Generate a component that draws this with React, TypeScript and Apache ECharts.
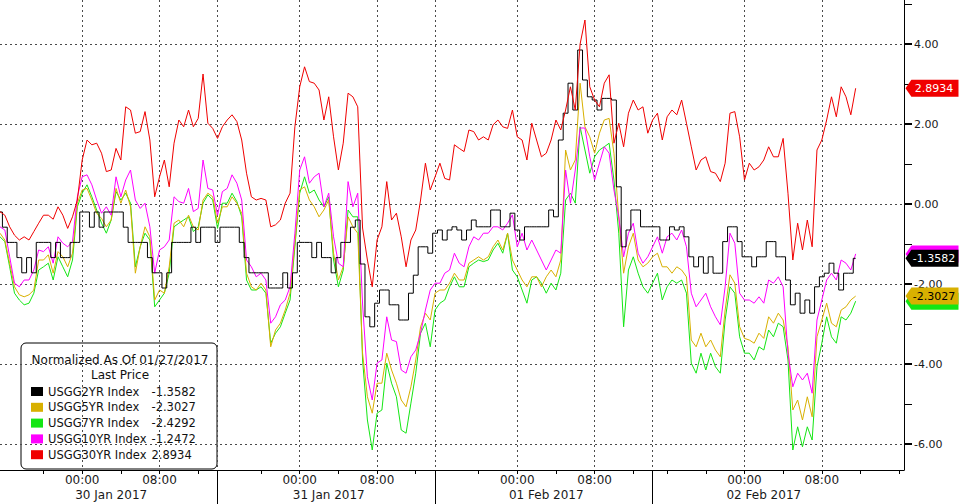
import React, { useEffect, useRef } from 'react';
import * as echarts from 'echarts';

// ---------- axis definition (trading-time slots of 30 minutes) ----------
const DAY_LABELS = ['30 Jan 2017', '31 Jan 2017', '01 Feb 2017', '02 Feb 2017'];
const DAY_START_SLOTS = [0, 45, 90, 135];
const DAY_START_TIMES = ['15:30', '15:30', '15:30', '14:30'];
const SLOT_COUNT = 188;
const SLOT_MINUTES = 30;
const DAY_LABEL_OFFSET = 23;
const TIME_LABELS = ['00:00', '08:00'];
const Y_MIN = -6.65;
const Y_MAX = 5.1;
const Y_LABEL_VALUES = [-6, -4, -2, 0, 2, 4];
const Y_MINOR_VALUES = [-5, -3, -1, 1, 3, 5];
const LEGEND_TITLE = 'Normalized As Of 01/27/2017';
const LEGEND_SUBTITLE = 'Last Price';

// ---------- series values (one value per slot) ----------
const USGG2YR = [
  -0.2, -0.58, -0.96, -0.96, -1.34, -1.72, -1.34, -1.72, -0.96, -0.96,
  -0.96, -1.34, -0.96, -1.34, -1.34, -0.96, -0.96, -0.2, -0.2, -0.58,
  -0.2, -0.58, -0.2, -0.2, -0.2, -0.2, -0.58, -0.96, -0.96, -0.96,
  -0.96, -1.34, -1.72, -1.72, -2.1, -1.72, -0.96, -0.96, -0.96, -0.96,
  -0.58, -0.96, -0.58, -0.58, -0.58, -0.96, -0.58, -0.58, -0.58, -0.58,
  -0.96, -1.34, -1.72, -1.72, -1.72, -1.72, -2.1, -2.1, -2.1, -1.72,
  -2.1, -1.72, -0.96, -0.96, -0.96, -1.34, -0.96, -1.34, -1.34, -1.72,
  -1.34, -0.96, -0.96, -0.58, -0.4, -1.5, -2.82, -3.07, -2.48, -2.15,
  -2.15, -2.52, -2.52, -2.9, -2.9, -2.23, -1.78, -1.07, -1.07, -1.23,
  -0.73, -0.65, -0.9, -0.65, -0.57, -0.65, -0.9, -0.65, -0.4, -0.57,
  -0.57, -0.57, -0.15, -0.15, -0.57, -0.57, -0.23, -0.65, -0.9, -0.57,
  -0.57, -0.57, -0.57, -0.57, -0.15, -0.32, 1.6, 2.27, 3.02, 2.35,
  3.85, 3.1, 2.68, 2.6, 2.35, 2.64, 2.64, 2.6, 0.43, -1.07,
  -0.65, -0.15, -0.15, -0.57, -0.57, -0.57, -0.57, -0.9, -0.9, -0.57,
  -0.65, -0.57, -0.82, -1.32, -1.57, -1.32, -1.73, -1.32, -1.73, -1.73,
  -0.94, -0.57, -0.57, -0.94, -1.32, -1.32, -1.57, -1.32, -1.32, -0.94,
  -0.94, -1.32, -1.32, -1.9, -2.52, -2.23, -2.73, -2.4, -2.73, -2.07,
  -1.82, -1.73, -1.48, -1.73, -2.15, -1.73, -1.73, -1.3582,
];

const USGG5YR = [
  -0.73, -0.9, -1.48, -2.07, -2.27, -2.32, -2.27, -2.15, -1.4, -1.4,
  -1.27, -1.73, -1.19, -1.32, -1.57, -1.23, 0.02, 0.35, 0.39, 0.1,
  -0.23, -0.36, -0.57, -0.4, 0.39, 0.02, 0.35, -0.07, -1.73, -1.07,
  -0.57, -0.82, -2.4, -2.15, -2.23, -1.57, -0.48, -0.4, -0.57, -0.28,
  -0.57, -0.65, 0.1, 0.27, 0.18, -0.48, -0.07, -0.07, 0.18, 0.02,
  -0.23, -1.73, -2.07, -2.15, -1.98, -2.15, -3.57, -3.15, -2.98, -2.65,
  -2.23, -0.98, 0.35, 0.43, 0.1, -0.07, -0.32, -0.15, 0.1, -1.23,
  -1.9, -1.57, -0.32, -0.57, -0.73, -3.73, -4.82, -5.23, -4.48, -4.48,
  -3.73, -4.15, -4.48, -4.9, -5.07, -4.57, -3.9, -3.07, -2.73, -2.9,
  -2.23, -2.15, -2.15, -1.98, -1.73, -1.9, -1.9, -1.48, -1.4, -1.32,
  -1.4, -1.32, -1.07, -0.9, -1.15, -0.73, -1.4, -1.65, -1.9, -2.07,
  -1.82, -1.82, -2.07, -1.82, -1.65, -1.82, -1.4, 1.35, 0.85, 1.1,
  3.02, 1.93, 1.68, 1.27, 1.77, 2.1, 2.14, 1.27, -0.32, -1.73,
  -1.07, -0.73, -1.4, -1.57, -1.48, -1.32, -1.23, -1.57, -1.57, -1.73,
  -1.57, -1.65, -1.82, -3.4, -3.57, -3.23, -3.57, -3.4, -3.65, -3.82,
  -2.65, -1.77, -1.98, -3.07, -3.36, -3.4, -3.48, -3.23, -3.36, -2.82,
  -2.98, -2.73, -2.9, -3.57, -5.15, -4.9, -5.4, -4.82, -5.32, -3.32,
  -2.9, -2.48, -2.98, -3.07, -2.65, -2.57, -2.4, -2.3027,
];

const USGG7YR = [
  -0.82, -0.94, -1.57, -2.23, -2.4, -2.52, -2.48, -2.23, -1.65, -1.57,
  -1.48, -1.9, -1.32, -1.57, -1.82, -1.4, -0.07, 0.27, 0.48, 0.18,
  -0.15, -0.48, -0.73, -0.4, 0.31, 0.1, 0.27, 0.02, -1.57, -1.07,
  -0.73, -0.9, -2.57, -2.4, -2.23, -1.73, -0.57, -0.48, -0.4, -0.32,
  -0.69, -0.57, 0.02, 0.23, 0.1, -0.61, 0.02, 0.02, 0.27, 0.06,
  -0.32, -1.9, -2.15, -2.15, -2.07, -2.23, -3.48, -3.23, -3.07, -2.73,
  -2.4, -1.07, 0.27, 0.68, 0.27, 0.35, 0.1, -0.07, 0.18, -1.4,
  -2.07, -1.65, -0.15, -0.32, -0.32, -3.9, -5.4, -6.15, -5.23, -5.15,
  -3.98, -4.48, -4.82, -5.65, -5.73, -4.98, -4.23, -3.23, -2.98, -3.57,
  -2.65, -2.48, -2.4, -2.07, -1.82, -2.07, -2.07, -1.57, -1.48, -1.4,
  -1.44, -1.4, -1.15, -0.98, -1.23, -0.73, -1.65, -1.82, -2.15, -2.48,
  -1.9, -1.82, -1.98, -2.23, -1.98, -2.15, -1.73, 0.1, 0.27, 0.02,
  1.93, 1.35, 0.77, 1.18, 1.35, 1.43, 1.52, 0.6, -0.73, -3.07,
  -1.65, -1.32, -1.73, -2.07, -2.23, -1.98, -1.73, -2.4, -2.07, -1.9,
  -1.98, -1.9, -2.23, -3.98, -4.23, -3.73, -4.15, -3.73, -4.07, -4.23,
  -2.9, -2.07, -2.23, -3.32, -3.73, -3.73, -3.9, -3.57, -3.65, -3.15,
  -3.32, -2.98, -3.07, -3.9, -6.15, -5.57, -6.07, -5.57, -5.9, -4.07,
  -3.48, -2.82, -3.32, -3.48, -2.82, -2.9, -2.73, -2.4292,
];

const USGG10YR = [
  -0.57, -0.65, -1.32, -1.98, -2.07, -1.9, -1.9, -1.65, -1.15, -1.19,
  -1.07, -1.48, -0.82, -0.98, -1.07, -0.94, 0.18, 0.68, 0.73, 0.48,
  0.1, -0.23, -0.07, -0.28, 0.68, 0.18, 0.6, 0.85, 0.1, -0.11,
  0.02, -0.57, -1.73, -1.15, -1.07, -0.9, 0.18, 0.06, 0.02, 0.39,
  -0.19, -0.11, 1.1, 0.39, 0.35, -0.28, 0.31, 0.39, 0.73, 0.52,
  0.1, -1.4, -1.57, -1.82, -1.73, -1.9, -2.98, -2.82, -2.52, -2.4,
  -2.07, -0.73, 0.85, 1.18, 0.52, 0.68, 0.77, -0.07, 0.27, -0.82,
  -1.48, -1.57, 0.56, -0.07, 0.27, -2.5, -4.32, -4.9, -3.98, -3.9,
  -2.82, -3.4, -3.44, -4.15, -4.23, -3.82, -3.65, -3.23, -2.65, -2.15,
  -1.98, -1.98, -1.73, -1.65, -1.23, -1.48, -1.57, -1.07, -0.82, -0.9,
  -0.73, -0.73, -0.57, -0.57, -0.65, -0.48, -0.27, -1.07, -0.73, -1.15,
  -0.9, -1.15, -1.4, -1.65, -1.4, -1.15, -1.23, 0.85, 0.02, 0.85,
  1.9, 1.9, 1.18, 0.6, 1.02, 1.43, 1.27, 0.35, -0.32, -1.32,
  -0.73, -0.48, -1.23, -1.48, -1.32, -1.07, -0.82, -1.23, -0.82, -0.73,
  -0.9, -0.65, -1.07, -2.23, -2.57, -2.4, -2.23, -2.57, -2.82, -3.02,
  -2.07, -0.73, -0.98, -2.23, -2.4, -2.4, -2.48, -2.32, -2.48, -1.9,
  -1.98, -1.82, -2.07, -3.73, -4.57, -4.23, -4.4, -4.23, -4.73, -2.9,
  -2.4, -1.9, -1.73, -1.9, -1.4, -1.48, -1.65, -1.2472,
];

const USGG30YR = [
  -0.19, -0.28, -0.57, -0.78, -0.9, -0.82, -0.9, -0.69, -0.48, -0.28,
  -0.28, -0.38, -0.07, -0.28, -0.61, -0.32, 0.1, 1.1, 1.6, 1.48,
  1.52, 1.27, 0.81, 0.85, 1.39, 1.1, 2.43, 2.35, 1.77, 1.81,
  2.31, 1.6, 0.18, 0.68, 1.1, 0.43, 1.52, 2.1, 1.93, 2.35,
  1.93, 2.14, 3.25, 2.02, 1.89, 1.64, 1.93, 2.1, 2.23, 2.06,
  1.6, 0.77, 0.18, 0.1, 0.14, 0.1, -0.57, -0.52, -0.4, 0.02,
  0.27, 1.93, 2.93, 3.43, 3.06, 3.02, 2.85, 2.1, 2.68, 1.68,
  0.85, 1.52, 2.77, 2.68, 2.43, -0.6, -1.4, -2.07, -0.9, -0.57,
  0.56, -0.4, -0.23, -0.82, -1.57, -0.9, -0.65, 0.1, 1.02, 0.35,
  0.68, 1.02, 0.64, 0.6, 1.48, 1.39, 1.31, 1.85, 1.81, 1.6,
  1.68, 1.6, 1.98, 2.1, 1.93, 1.89, 2.35, 1.68, 1.6, 1.1,
  2.02, 1.6, 1.18, 1.27, 1.6, 2.1, 1.85, 2.35, 2.93, 2.35,
  4.0, 4.6, 2.93, 2.6, 2.43, 3.02, 3.23, 1.52, 2.02, 1.43,
  2.27, 2.6, 2.35, 2.43, 1.77, 2.1, 2.27, 1.6, 2.18, 2.35,
  2.23, 2.6, 2.02, 1.43, 0.85, 1.1, 1.18, 0.81, 0.77, 0.56,
  1.02, 2.27, 2.31, 1.68, 0.6, 1.02, 0.85, 0.93, 1.1, 1.43,
  1.18, 1.18, 1.64, 0.27, -1.4, -0.48, -1.15, -0.4, -1.07, 1.35,
  1.6, 2.1, 2.68, 2.18, 2.93, 2.68, 2.23, 2.8934,
];

const SERIES_NAMES = ['USGG2YR Index', 'USGG5YR Index', 'USGG7YR Index', 'USGG10YR Index', 'USGG30YR Index'];
const SERIES_VALUES = [USGG2YR, USGG5YR, USGG7YR, USGG10YR, USGG30YR];

// ---------- styles ----------
const FONT = '"DejaVu Sans", Verdana, sans-serif';
const LINE_COLORS = ['#000000', '#d8b000', '#14e614', '#ff00ff', '#f00000'];
const TAG_TEXT_COLORS = ['#ffffff', '#000000', '#000000', '#ffffff', '#ffffff'];
// tags of the 7YR and 10YR series lie under the 5YR and 2YR tags, so their texts are covered
const TAG_TEXT_SHOWN = [true, true, false, false, true];
const STEPPED = [true, false, false, false, false];
const DRAW_ORDER = [2, 1, 3, 0, 4];

// ---------- categories ----------
const toMinutes = (t: string) => {
  const [h, m] = t.split(':').map(Number);
  return h * 60 + m;
};
const CATEGORIES: string[] = [];
for (let s = 0; s < SLOT_COUNT; s++) {
  let d = 0;
  while (d + 1 < DAY_START_SLOTS.length && s >= DAY_START_SLOTS[d + 1]) d++;
  const mins = (toMinutes(DAY_START_TIMES[d]) + (s - DAY_START_SLOTS[d]) * SLOT_MINUTES) % 1440;
  const hh = String(Math.floor(mins / 60)).padStart(2, '0');
  const mm = String(mins % 60).padStart(2, '0');
  CATEGORIES.push(`${DAY_LABELS[d]} ${hh}:${mm}`);
}
const timeOf = (i: number) => CATEGORIES[i].slice(-5);
const isBoundary = (i: number) => i > 0 && DAY_START_SLOTS.includes(i);
const nearBoundary = (i: number) => DAY_START_SLOTS.some((s) => Math.abs(i - s) <= 1);
const isTimeLabel = (i: number) => TIME_LABELS.includes(timeOf(i));
const isFourHour = (i: number) => {
  const m = toMinutes(timeOf(i));
  return m % 240 === 0 && !nearBoundary(i);
};
const isDayLabel = (i: number) => DAY_START_SLOTS.some((s) => i === s + DAY_LABEL_OFFSET);

const dotted = { color: '#4a4a4a', width: 1, type: [2, 3] as number[] };

function buildOption() {
  const series = DRAW_ORDER.map((idx) => {
    const values = SERIES_VALUES[idx];
    const last = values[values.length - 1];
    return {
      name: SERIES_NAMES[idx],
      type: 'line',
      data: values,
      step: STEPPED[idx] ? 'middle' : false,
      symbol: 'none',
      showSymbol: false,
      clip: false,
      silent: true,
      lineStyle: { color: LINE_COLORS[idx], width: 1 },
      itemStyle: { color: LINE_COLORS[idx] },
      emphasis: { disabled: true },
      markPoint: {
        silent: true,
        symbol: 'path://M0,8 L6,0 L54,0 L54,16 L6,16 Z',
        symbolSize: [53, 17],
        symbolOffset: [28, 0],
        itemStyle: { color: LINE_COLORS[idx] },
        label: {
          show: TAG_TEXT_SHOWN[idx],
          position: 'inside',
          formatter: () => last.toFixed(4),
          color: TAG_TEXT_COLORS[idx],
          fontFamily: FONT,
          fontSize: 11,
          offset: [2, 0],
        },
        data: [{ coord: [SLOT_COUNT - 1, last], value: last }],
      },
    };
  });

  const legendChildren: any[] = [
    {
      type: 'rect',
      shape: { x: 0, y: 0, width: 196, height: 126, r: 5 },
      style: { fill: '#ffffff', stroke: '#000000', lineWidth: 1 },
    },
    {
      type: 'text',
      x: 99,
      y: 17,
      style: { text: LEGEND_TITLE, fill: '#111', fontFamily: FONT, fontSize: 12, align: 'center', verticalAlign: 'middle' },
    },
    {
      type: 'text',
      x: 99,
      y: 32,
      style: { text: LEGEND_SUBTITLE, fill: '#111', fontFamily: FONT, fontSize: 12, align: 'center', verticalAlign: 'middle' },
    },
  ];
  SERIES_NAMES.forEach((name, i) => {
    const cy = 48.5 + i * 15.8;
    const values = SERIES_VALUES[i];
    const last = values[values.length - 1];
    legendChildren.push(
      {
        type: 'rect',
        shape: { x: 10, y: cy - 4.5, width: 12, height: 9 },
        style: { fill: LINE_COLORS[i] },
      },
      {
        type: 'text',
        x: 27,
        y: cy,
        style: { text: name, fill: '#111', fontFamily: FONT, fontSize: 11.5, align: 'left', verticalAlign: 'middle' },
      },
      {
        type: 'text',
        x: 130.5,
        y: cy,
        style: { text: last.toFixed(4), fill: '#111', fontFamily: FONT, fontSize: 11.5, align: 'left', verticalAlign: 'middle' },
      }
    );
  });

  return {
    animation: false,
    backgroundColor: '#ffffff',
    textStyle: { fontFamily: FONT },
    grid: { left: 0, right: 55, top: 0, bottom: 34, containLabel: false },
    xAxis: [
      {
        type: 'category',
        data: CATEGORIES,
        boundaryGap: false,
        position: 'bottom',
        axisLine: { show: true, onZero: false, lineStyle: { color: '#000', width: 1 } },
        axisTick: { show: true, interval: (i: number) => isFourHour(i), length: 4, lineStyle: { color: '#000' } },
        axisLabel: {
          show: true,
          interval: (i: number) => isTimeLabel(i),
          formatter: (v: string) => v.slice(-5),
          margin: 4,
          color: '#1a1a1a',
          fontSize: 12,
          fontFamily: FONT,
        },
        splitLine: { show: true, interval: (i: number) => isTimeLabel(i) || isBoundary(i), lineStyle: dotted },
      },
      {
        type: 'category',
        data: CATEGORIES,
        boundaryGap: false,
        position: 'bottom',
        axisLine: { show: false, onZero: false },
        axisTick: { show: true, interval: (i: number) => isBoundary(i), length: 34, lineStyle: { color: '#000' } },
        axisLabel: {
          show: true,
          interval: (i: number) => isDayLabel(i),
          formatter: (v: string) => v.slice(0, -6),
          margin: 19,
          color: '#1a1a1a',
          fontSize: 12,
          fontFamily: FONT,
        },
        splitLine: { show: false },
      },
    ],
    yAxis: [
      {
        type: 'value',
        position: 'right',
        min: Y_MIN,
        max: Y_MAX,
        axisLine: { show: true, lineStyle: { color: '#000', width: 1 } },
        axisTick: { show: true, customValues: Y_LABEL_VALUES, length: 8, lineStyle: { color: '#000', width: 2 } },
        axisLabel: {
          show: true,
          customValues: Y_LABEL_VALUES,
          formatter: (v: number) => v.toFixed(2),
          margin: 10,
          color: '#1a1a1a',
          fontSize: 11,
          fontFamily: FONT,
        },
        splitLine: { show: true, lineStyle: dotted },
      },
      {
        type: 'value',
        position: 'right',
        min: Y_MIN,
        max: Y_MAX,
        axisLine: { show: false },
        axisTick: { show: true, customValues: Y_MINOR_VALUES, length: 8, lineStyle: { color: '#000', width: 1 } },
        axisLabel: { show: false },
        splitLine: { show: false },
      },
    ],
    graphic: [{ type: 'group', x: 21, y: 343, z: 100, children: legendChildren }],
    series,
  };
}

export default function App() {
  const ref = useRef<HTMLDivElement>(null);
  useEffect(() => {
    if (!ref.current) return;
    const chart = echarts.init(ref.current, null, { renderer: 'svg' });
    chart.setOption(buildOption() as any);
    return () => chart.dispose();
  }, []);
  return (
    <div
      ref={ref}
      style={{ position: 'fixed', left: 0, top: 0, width: 959, height: 504, background: '#ffffff' }}
    />
  );
}
